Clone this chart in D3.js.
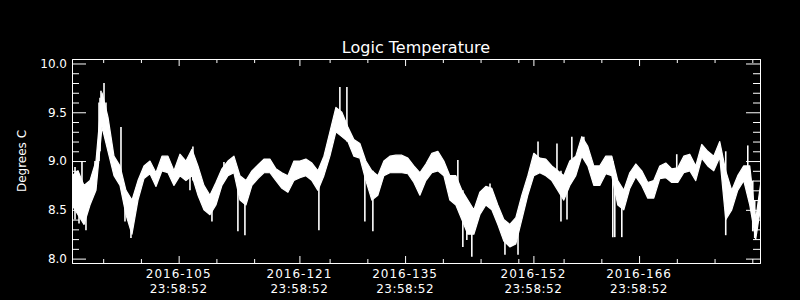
<!DOCTYPE html>
<html>
<head>
<meta charset="utf-8">
<script src="https://cdn.jsdelivr.net/npm/d3@7"></script>
<style>
  html, body { margin: 0; padding: 0; background: #000; }
  svg { display: block; }
  text { font-family: "DejaVu Sans", sans-serif; fill: #fff; }
</style>
</head>
<body>
<svg id="chart"></svg>
<script>
// Logic Temperature, day-of-year 2016
var title = "Logic Temperature";
var yLabel = "Degrees C";
var labelDays = [105, 121, 135, 152, 166];
var labelTime = "23:58:52";
var minorDays = [96, 101, 111, 116, 126, 131, 141, 146, 151, 157, 162, 172, 177, 182];
var yMajor = [8.0, 8.5, 9.0, 9.5, 10.0];
var yMinor = [8.1, 8.2, 8.3, 8.4, 8.6, 8.7, 8.8, 8.9, 9.1, 9.2, 9.3, 9.4, 9.6, 9.7, 9.8, 9.9];

// band of the noisy trace, sampled every ~0.795 day from day 91.87
var startDay = 91.87;
var stepDay = 0.7946;
var hi = [8.85, 8.9, 8.75, 8.8, 9.0, 9.7, 9.45, 9.05, 8.95, 8.7, 8.6, 8.8, 8.95, 9.0, 8.88, 9.05,
    9.05, 8.9, 9.07, 9.0, 9.12, 8.95, 8.75, 8.65, 8.78, 8.92, 9.0, 9.05, 8.85, 8.8, 8.9, 8.96,
    9.02, 9.02, 8.92, 8.88, 8.85, 9.0, 9.0, 9.02, 8.98, 8.9, 9.05, 9.3, 9.55, 9.5, 9.35, 9.22,
    9.18, 9.0, 8.9, 8.85, 9.0, 9.05, 9.06, 9.06, 9.03, 8.95, 8.88, 8.97, 9.08, 9.1, 9.0, 8.85,
    8.85, 8.7, 8.6, 8.5, 8.68, 8.74, 8.72, 8.55, 8.4, 8.35, 8.42, 8.65, 8.85, 9.08, 9.03, 9.02,
    8.95, 8.9, 8.85, 9.0, 9.05, 9.25, 9.15, 8.95, 8.95, 9.05, 9.05, 8.8, 8.7, 8.88, 8.97, 8.9,
    8.78, 8.8, 8.95, 8.98, 8.92, 8.93, 9.05, 9.07, 8.95, 9.17, 9.1, 9.05, 9.2, 8.9, 8.7, 8.85,
    8.95, 8.95, 8.4, 8.85];
var lo = [8.55, 8.45, 8.35, 8.55, 8.7, 9.35, 9.1, 8.85, 8.75, 8.45, 8.25, 8.6, 8.82, 8.87, 8.74, 8.9,
    8.88, 8.75, 8.85, 8.8, 8.85, 8.65, 8.5, 8.45, 8.55, 8.75, 8.85, 8.88, 8.6, 8.55, 8.75, 8.82,
    8.88, 8.88, 8.8, 8.72, 8.68, 8.8, 8.83, 8.85, 8.8, 8.7, 8.85, 9.05, 9.3, 9.25, 9.2, 9.05,
    9.03, 8.8, 8.6, 8.65, 8.85, 8.88, 8.88, 8.88, 8.87, 8.78, 8.65, 8.8, 8.88, 8.9, 8.85, 8.6,
    8.55, 8.4, 8.25, 8.25, 8.45, 8.55, 8.5, 8.35, 8.18, 8.12, 8.15, 8.4, 8.65, 8.85, 8.88, 8.85,
    8.8, 8.7, 8.6, 8.75, 8.85, 9.05, 8.95, 8.75, 8.75, 8.87, 8.85, 8.55, 8.5, 8.72, 8.84, 8.75,
    8.62, 8.62, 8.82, 8.83, 8.78, 8.78, 8.88, 8.9, 8.8, 9.03, 8.95, 8.9, 9.04, 8.4, 8.5, 8.7,
    8.8, 8.55, 8.2, 8.6];

// narrow excursions: [day, top, bottom]
var spikes = [
    [92.27, 8.94, 8.4], [92.80, 8.85, 8.36], [93.19, 9.0, 8.6], [93.72, 8.7, 8.29],
    [94.92, 9.0, 8.7], [95.45, 9.6, 9.0], [95.58, 9.65, 9.1], [95.71, 9.72, 9.35],
    [96.11, 9.8, 9.4], [96.37, 9.6, 9.2], [98.36, 9.35, 8.8],
    [98.89, 8.7, 8.38], [99.68, 8.6, 8.21], [107.50, 8.9, 8.7], [107.89, 9.15, 8.8],
    [110.41, 8.6, 8.38], [112.00, 8.99, 8.8], [113.85, 8.85, 8.28], [114.78, 8.8, 8.24],
    [124.58, 8.9, 8.29], [127.36, 9.76, 9.3], [128.29, 9.76, 9.2], [130.67, 9.0, 8.38],
    [131.73, 8.9, 8.28], [142.99, 9.01, 8.7], [143.65, 8.7, 8.12], [144.18, 8.6, 8.19],
    [144.84, 8.5, 8.02], [147.25, 8.77, 8.55], [149.23, 8.3, 8.04], [150.56, 8.4, 8.2],
    [150.96, 8.3, 8.04], [153.61, 9.2, 8.9], [156.12, 9.18, 8.85], [156.65, 8.9, 8.38],
    [157.45, 8.85, 8.4], [158.09, 9.25, 8.9], [159.68, 9.25, 9.05], [163.52, 9.0, 8.22],
    [163.78, 8.85, 8.22], [164.71, 8.7, 8.22], [171.99, 9.07, 8.8], [178.48, 9.1, 8.24],
    [181.40, 9.16, 8.8], [182.06, 8.8, 8.28], [182.32, 8.6, 8.21]
];

var width = 800, height = 300;
var plotLeft = 72, plotRight = 760, plotTop = 59, plotBottom = 263;
var dayFrac = (23 * 3600 + 58 * 60 + 52) / 86400;

var svg = d3.select("#chart")
    .attr("width", width)
    .attr("height", height);

svg.append("rect")
    .attr("width", width)
    .attr("height", height)
    .attr("fill", "#000");

var x = d3.scaleLinear().domain([91.87, 183.02]).range([plotLeft, plotRight]);
var y = d3.scaleLinear().domain([7.955, 10.046]).range([plotBottom, plotTop]);

svg.append("clipPath")
    .attr("id", "plotClip")
    .append("rect")
    .attr("x", plotLeft)
    .attr("y", plotTop)
    .attr("width", plotRight - plotLeft)
    .attr("height", plotBottom - plotTop);

var plot = svg.append("g").attr("clip-path", "url(#plotClip)");

var area = d3.area()
    .x(function (d, i) { return x(startDay + i * stepDay); })
    .y0(function (d, i) { return y(lo[i]); })
    .y1(function (d) { return y(d); });

plot.append("path")
    .datum(hi)
    .attr("d", area)
    .attr("fill", "#fff")
    .attr("stroke", "#fff")
    .attr("stroke-width", 1.2)
    .attr("stroke-linejoin", "round");

plot.selectAll("line.spike")
    .data(spikes)
    .enter()
    .append("line")
    .attr("class", "spike")
    .attr("x1", function (d) { return x(d[0]); })
    .attr("x2", function (d) { return x(d[0]); })
    .attr("y1", function (d) { return y(d[1]); })
    .attr("y2", function (d) { return y(d[2]); })
    .attr("stroke", "#fff")
    .attr("stroke-width", 1.6);

function styleAxis(g) {
    g.selectAll("path, line").attr("stroke", "#fff");
    g.selectAll("text").attr("fill", "#fff");
}

// y axes (ticks inside the box)
svg.append("g")
    .attr("transform", "translate(" + plotLeft + ",0)")
    .call(d3.axisLeft(y).tickValues(yMinor).tickSizeInner(-7).tickSizeOuter(0).tickFormat(""))
    .call(styleAxis);
svg.append("g")
    .attr("transform", "translate(" + plotLeft + ",0)")
    .call(d3.axisLeft(y).tickValues(yMajor).tickSizeInner(-14).tickSizeOuter(0)
        .tickPadding(5).tickFormat(d3.format(".1f")))
    .call(styleAxis)
    .selectAll("text")
    .attr("font-size", 12)
    .attr("font-family", "DejaVu Sans, sans-serif");
svg.append("g")
    .attr("transform", "translate(" + plotRight + ",0)")
    .call(d3.axisRight(y).tickValues(yMinor).tickSizeInner(-7).tickSizeOuter(0).tickFormat(""))
    .call(styleAxis);
svg.append("g")
    .attr("transform", "translate(" + plotRight + ",0)")
    .call(d3.axisRight(y).tickValues(yMajor).tickSizeInner(-14).tickSizeOuter(0).tickFormat(""))
    .call(styleAxis);

// x axes
var majorX = labelDays.map(function (d) { return d + dayFrac; });
[[plotBottom, d3.axisBottom], [plotTop, d3.axisTop]].forEach(function (a) {
    svg.append("g")
        .attr("transform", "translate(0," + a[0] + ")")
        .call(a[1](x).tickValues(minorDays).tickSizeInner(-4).tickSizeOuter(0).tickFormat(""))
        .call(styleAxis);
    svg.append("g")
        .attr("transform", "translate(0," + a[0] + ")")
        .call(a[1](x).tickValues(majorX).tickSizeInner(-7).tickSizeOuter(0).tickFormat(""))
        .call(styleAxis);
});

var xl = svg.append("g")
    .selectAll("text")
    .data(labelDays)
    .enter()
    .append("text")
    .attr("text-anchor", "middle")
    .attr("font-size", 12)
    .attr("x", function (d) { return x(d + dayFrac); });
xl.append("tspan")
    .attr("x", function (d) { return x(d + dayFrac); })
    .attr("y", 278)
    .attr("letter-spacing", 1)
    .text(function (d) { return "2016-" + d; });
xl.append("tspan")
    .attr("x", function (d) { return x(d + dayFrac); })
    .attr("y", 293)
    .attr("letter-spacing", 0.5)
    .text(labelTime);

svg.append("text")
    .attr("x", 416)
    .attr("y", 53)
    .attr("text-anchor", "middle")
    .attr("font-size", 16)
    .text(title);

svg.append("text")
    .attr("transform", "translate(26,161) rotate(-90)")
    .attr("text-anchor", "middle")
    .attr("font-size", 12)
    .text(yLabel);
</script>
</body>
</html>
